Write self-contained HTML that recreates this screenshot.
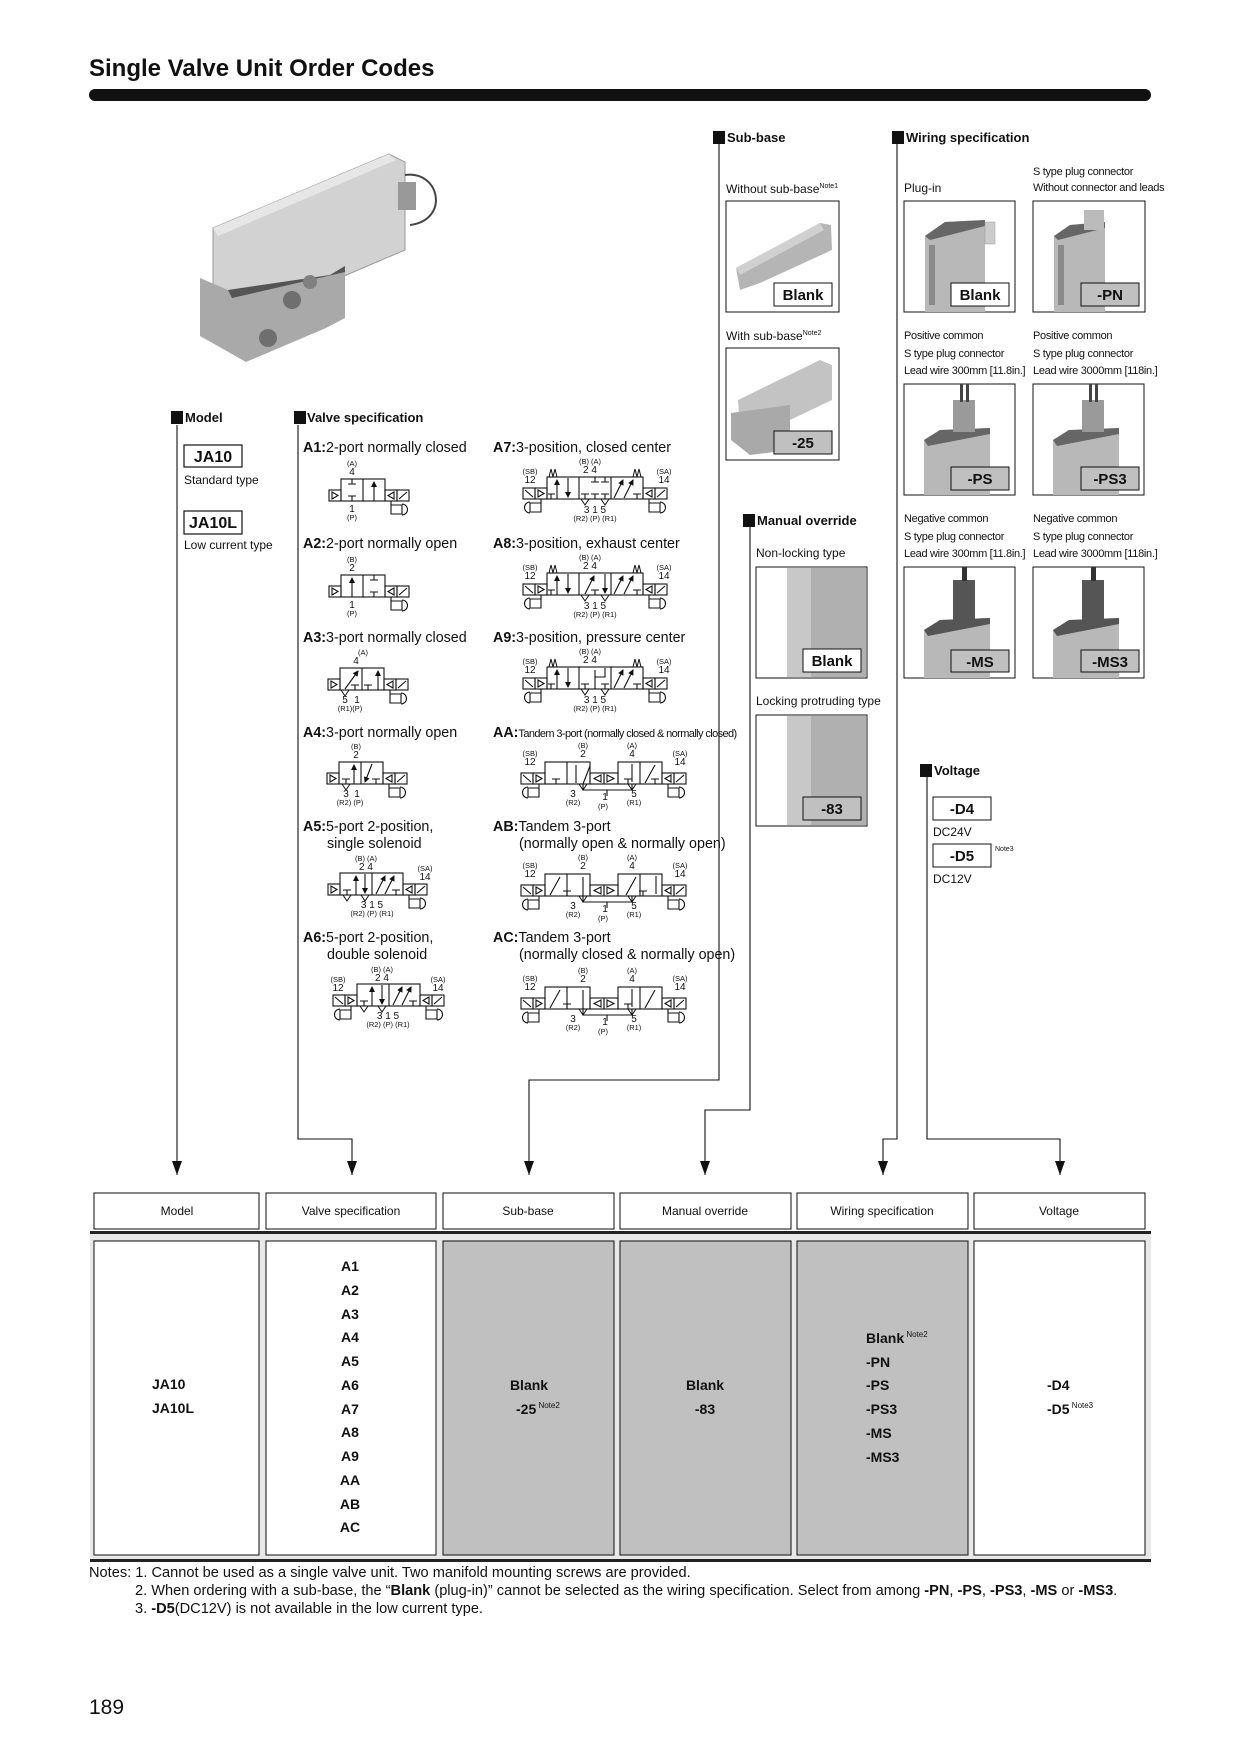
<!DOCTYPE html>
<html><head><meta charset="utf-8">
<style>
html,body{margin:0;padding:0;background:#fff;}
svg{display:block;}
text{font-family:"Liberation Sans",Arial,sans-serif;fill:#111;}
.b{font-weight:bold;}
</style></head><body>
<svg width="1240" height="1754" viewBox="0 0 1240 1754" xmlns="http://www.w3.org/2000/svg">
<defs>
<marker id="ah" markerWidth="6" markerHeight="6" refX="5" refY="3" orient="auto" markerUnits="userSpaceOnUse"><path d="M0,0 L6,3 L0,6 z" fill="#111"/></marker>
<marker id="big" markerWidth="10" markerHeight="14" refX="5" refY="14" orient="0" markerUnits="userSpaceOnUse"><path d="M0,0 L10,0 L5,14 z" fill="#111"/></marker>
<g id="rs" fill="none" stroke="#111" stroke-width="1.1">
<rect x="0" y="11" width="12" height="11"/><path d="M9,13 L3,16.5 L9,20Z"/>
<rect x="12" y="11" width="12" height="11"/><path d="M14,20 L22,13"/>
<path d="M6,22 V26 H17 V35 H6 Z M17,25 A5.5,5.5 0 0 1 17,36"/>
</g>
<g id="ls" fill="none" stroke="#111" stroke-width="1.1">
<rect x="-12" y="11" width="12" height="11"/><path d="M-9,13 L-3,16.5 L-9,20Z"/>
</g>
<g id="sp" fill="none" stroke="#111" stroke-width="1"><path d="M0,11 L2,3 L4,11 L6,3 L8,11"/></g>
<g id="ex" fill="none" stroke="#111" stroke-width="1"><path d="M-4,0 L0,6 L4,0"/></g>
</defs>

<!-- title -->
<text x="89" y="76" font-size="24" class="b">Single Valve Unit Order Codes</text>
<rect x="89" y="89" width="1062" height="12" rx="6" fill="#111"/>

<!-- large photo -->
<g>
<polygon points="213,228 389,154 405,162 405,250 330,282 225,298 213,292" fill="#d2d2d2" stroke="#9a9a9a"/>
<polygon points="213,228 389,154 396,160 218,236" fill="#e6e6e6"/>
<polygon points="200,278 228,290 330,275 345,266 345,318 326,328 246,362 200,336" fill="#a9a9a9"/>
<polygon points="228,290 330,275 345,266 345,272 232,298" fill="#555"/>
<circle cx="292" cy="300" r="9" fill="#6f6f6f"/><circle cx="310" cy="282" r="7" fill="#808080"/><circle cx="268" cy="338" r="9" fill="#6f6f6f"/>
<path d="M405,175 C440,170 450,220 410,225" fill="none" stroke="#444" stroke-width="2"/>
<rect x="398" y="182" width="18" height="28" fill="#999"/>
</g>

<!-- section headers -->
<g font-size="13">
<rect x="171" y="411" width="12" height="13" fill="#111"/><text x="185" y="422" class="b">Model</text>
<rect x="294" y="411" width="12" height="13" fill="#111"/><text x="307" y="422" class="b">Valve specification</text>
<rect x="713" y="131" width="12" height="13" fill="#111"/><text x="727" y="142" class="b">Sub-base</text>
<rect x="892" y="131" width="12" height="13" fill="#111"/><text x="906" y="142" class="b">Wiring specification</text>
<rect x="743" y="514" width="12" height="13" fill="#111"/><text x="757" y="525" class="b">Manual override</text>
<rect x="920" y="764" width="12" height="13" fill="#111"/><text x="934" y="775" class="b">Voltage</text>
</g>

<!-- Model -->
<rect x="184" y="445" width="58" height="22" fill="#fff" stroke="#111" stroke-width="1.2"/>
<text x="213" y="462" font-size="16" class="b" text-anchor="middle">JA10</text>
<text x="184" y="484" font-size="12">Standard type</text>
<rect x="184" y="511" width="58" height="23" fill="#fff" stroke="#111" stroke-width="1.2"/>
<text x="213" y="528" font-size="16" class="b" text-anchor="middle">JA10L</text>
<text x="184" y="549" font-size="12">Low current type</text>

<!-- Valve spec labels -->
<g font-size="14.3">
<text x="303" y="452"><tspan class="b">A1:</tspan>2-port normally closed</text>
<text x="303" y="548"><tspan class="b">A2:</tspan>2-port normally open</text>
<text x="303" y="642"><tspan class="b">A3:</tspan>3-port normally closed</text>
<text x="303" y="737"><tspan class="b">A4:</tspan>3-port normally open</text>
<text x="303" y="831"><tspan class="b">A5:</tspan>5-port 2-position,</text>
<text x="327" y="848">single solenoid</text>
<text x="303" y="942"><tspan class="b">A6:</tspan>5-port 2-position,</text>
<text x="327" y="959">double solenoid</text>
<text x="493" y="452"><tspan class="b">A7:</tspan>3-position, closed center</text>
<text x="493" y="548"><tspan class="b">A8:</tspan>3-position, exhaust center</text>
<text x="493" y="642"><tspan class="b">A9:</tspan>3-position, pressure center</text>
<text x="493" y="737"><tspan class="b">AA:</tspan><tspan font-size="11" letter-spacing="-0.6">Tandem 3-port (normally closed &amp; normally closed)</tspan></text>
<text x="493" y="831"><tspan class="b">AB:</tspan>Tandem 3-port</text>
<text x="519" y="848">(normally open &amp; normally open)</text>
<text x="493" y="942"><tspan class="b">AC:</tspan>Tandem 3-port</text>
<text x="519" y="959">(normally closed &amp; normally open)</text>
</g>

<!-- valve symbols -->
<g fill="none" stroke="#111" stroke-width="1.1">
<rect x="341" y="479" width="44" height="22"/><line x1="363" y1="479" x2="363" y2="501"/>
<path d="M352,479 V484 M348,484 H356 M352,501 V496 M348,496 H356"/>
<line x1="374" y1="501" x2="374" y2="482" marker-end="url(#ah)"/>
<use href="#ls" x="341" y="479"/><use href="#rs" x="385" y="479"/>
<rect x="341" y="575" width="44" height="22"/><line x1="363" y1="575" x2="363" y2="597"/>
<line x1="352" y1="597" x2="352" y2="578" marker-end="url(#ah)"/>
<path d="M374,575 V580 M370,580 H378 M374,597 V592 M370,592 H378"/>
<use href="#ls" x="341" y="575"/><use href="#rs" x="385" y="575"/>
<rect x="340" y="668" width="44" height="22"/><line x1="362" y1="668" x2="362" y2="690"/>
<line x1="345" y1="689" x2="358" y2="671" marker-end="url(#ah)"/>
<path d="M355,690 V685 M351,685 H359 M368,690 V685 M364,685 H372"/>
<line x1="378" y1="690" x2="378" y2="671" marker-end="url(#ah)"/>
<use href="#ex" x="345" y="690"/>
<use href="#ls" x="340" y="668"/><use href="#rs" x="384" y="668"/>
<rect x="339" y="762" width="44" height="22"/><line x1="361" y1="762" x2="361" y2="784"/>
<path d="M346,784 V779 M342,779 H350 M376,784 V779 M372,779 H380"/>
<line x1="354" y1="784" x2="354" y2="765" marker-end="url(#ah)"/>
<line x1="372" y1="764" x2="365" y2="782" marker-end="url(#ah)"/>
<use href="#ex" x="346" y="784"/>
<use href="#ls" x="339" y="762"/><use href="#rs" x="383" y="762"/>
<rect x="340" y="873" width="63" height="22"/><line x1="372" y1="873" x2="372" y2="895"/>
<path d="M347,895 V890 M343,890 H351 M396,895 V890 M392,890 H400"/>
<line x1="356" y1="895" x2="356" y2="876" marker-end="url(#ah)"/>
<line x1="365" y1="874" x2="365" y2="893" marker-end="url(#ah)"/>
<line x1="376" y1="894" x2="385" y2="876" marker-end="url(#ah)"/>
<line x1="385" y1="894" x2="394" y2="876" marker-end="url(#ah)"/>
<use href="#ex" x="347" y="895"/><use href="#ex" x="365" y="895"/>
<use href="#ls" x="340" y="873"/><use href="#rs" x="403" y="873"/>
<rect x="357" y="984" width="63" height="22"/><line x1="389" y1="984" x2="389" y2="1006"/>
<path d="M364,1006 V1001 M360,1001 H368 M413,1006 V1001 M409,1001 H417"/>
<line x1="372" y1="1006" x2="372" y2="987" marker-end="url(#ah)"/>
<line x1="382" y1="985" x2="382" y2="1004" marker-end="url(#ah)"/>
<line x1="393" y1="1005" x2="402" y2="987" marker-end="url(#ah)"/>
<line x1="402" y1="1005" x2="411" y2="987" marker-end="url(#ah)"/>
<use href="#ex" x="364" y="1006"/><use href="#ex" x="382" y="1006"/>
<use href="#rs" transform="translate(357,984) scale(-1,1)"/><use href="#rs" x="420" y="984"/>

<g>
<rect x="547" y="477" width="96" height="22"/><line x1="579" y1="477" x2="579" y2="499"/><line x1="611" y1="477" x2="611" y2="499"/>
<line x1="557" y1="499" x2="557" y2="480" marker-end="url(#ah)"/><line x1="568" y1="478" x2="568" y2="497" marker-end="url(#ah)"/>
<path d="M551,499 V494 M548,494 H555 M595,477 V482 M591,482 H599 M605,477 V482 M601,482 H609 M585,499 V494 M581,494 H589 M595,499 V494 M591,494 H599 M605,499 V494 M601,494 H609 M637,499 V494 M633,494 H641"/>
<line x1="614" y1="498" x2="623" y2="480" marker-end="url(#ah)"/><line x1="624" y1="498" x2="633" y2="480" marker-end="url(#ah)"/>
<use href="#ex" x="585" y="499"/><use href="#ex" x="605" y="499"/>
<use href="#rs" transform="translate(547,477) scale(-1,1)"/><use href="#rs" x="643" y="477"/>
<use href="#sp" x="549" y="466"/><use href="#sp" x="633" y="466"/>
</g>
<g>
<rect x="547" y="573" width="96" height="22"/><line x1="579" y1="573" x2="579" y2="595"/><line x1="611" y1="573" x2="611" y2="595"/>
<line x1="557" y1="595" x2="557" y2="576" marker-end="url(#ah)"/><line x1="568" y1="574" x2="568" y2="593" marker-end="url(#ah)"/>
<line x1="585" y1="594" x2="594" y2="576" marker-end="url(#ah)"/><line x1="605" y1="574" x2="605" y2="593" marker-end="url(#ah)"/>
<path d="M551,595 V590 M548,590 H555 M595,595 V590 M591,590 H599 M637,595 V590 M633,590 H641"/>
<line x1="614" y1="594" x2="623" y2="576" marker-end="url(#ah)"/><line x1="624" y1="594" x2="633" y2="576" marker-end="url(#ah)"/>
<use href="#ex" x="585" y="595"/><use href="#ex" x="605" y="595"/>
<use href="#rs" transform="translate(547,573) scale(-1,1)"/><use href="#rs" x="643" y="573"/>
<use href="#sp" x="549" y="562"/><use href="#sp" x="633" y="562"/>
</g>
<g>
<rect x="547" y="667" width="96" height="22"/><line x1="579" y1="667" x2="579" y2="689"/><line x1="611" y1="667" x2="611" y2="689"/>
<line x1="557" y1="689" x2="557" y2="670" marker-end="url(#ah)"/><line x1="568" y1="668" x2="568" y2="687" marker-end="url(#ah)"/>
<path d="M595,689 V670 M595,677 H605 V668 M585,689 V684 M581,684 H589 M605,689 V684 M601,684 H609 M551,689 V684 M548,684 H555 M637,689 V684 M633,684 H641"/>
<line x1="614" y1="688" x2="623" y2="670" marker-end="url(#ah)"/><line x1="624" y1="688" x2="633" y2="670" marker-end="url(#ah)"/>
<use href="#ex" x="585" y="689"/><use href="#ex" x="605" y="689"/>
<use href="#rs" transform="translate(547,667) scale(-1,1)"/><use href="#rs" x="643" y="667"/>
<use href="#sp" x="549" y="656"/><use href="#sp" x="633" y="656"/>
</g>

<g id="tand">
<rect x="545" y="762" width="45" height="22"/><line x1="567" y1="762" x2="567" y2="784"/>
<rect x="618" y="762" width="44" height="22"/><line x1="640" y1="762" x2="640" y2="784"/>
<rect x="590" y="773" width="14" height="11"/><rect x="604" y="773" width="14" height="11"/>
<path d="M601,775 L594,778.5 L601,782Z M607,775 L614,778.5 L607,782Z"/>
<path d="M583,784 V790 H632 V784 M607,790 V796"/>
<use href="#rs" transform="translate(545,762) scale(-1,1)"/><use href="#rs" x="662" y="762"/>
<use href="#ex" x="583" y="784"/><use href="#ex" x="632" y="784"/>
</g>
<path d="M556,784 V779 M552,779 H560 M576,783 V765 M583,784 L590,766 M628,784 V779 M624,779 H632 M645,783 L655,765 M655,784 V779 M651,779 H659 M632,764 V782"/>
<use href="#tand" y="112"/>
<path d="M550,895 L560,877 M567,896 V891 M563,891 H571 M583,896 V877 M626,895 L636,877 M643,896 V891 M639,891 H647 M656,876 V894"/>
<use href="#tand" y="225"/>
<path d="M550,1008 L560,990 M567,1009 V1004 M563,1004 H571 M583,1009 V990 M628,1009 V1004 M624,1004 H632 M632,989 V1007 M645,1008 L655,990"/>
</g>

<!-- port labels -->
<g text-anchor="middle">
<g font-size="7.5">
<text x="352" y="466">(A)</text><text x="352" y="520">(P)</text>
<text x="352" y="562">(B)</text><text x="352" y="616">(P)</text>
<text x="363" y="655">(A)</text><text x="350" y="711">(R1)(P)</text>
<text x="356" y="749">(B)</text><text x="350" y="805">(R2) (P)</text>
<text x="366" y="861">(B) (A)</text><text x="372" y="916">(R2) (P) (R1)</text><text x="425" y="871">(SA)</text>
<text x="382" y="972">(B) (A)</text><text x="388" y="1027">(R2) (P) (R1)</text><text x="338" y="982">(SB)</text><text x="438" y="982">(SA)</text>
<text x="590" y="464">(B) (A)</text><text x="595" y="521">(R2) (P) (R1)</text><text x="530" y="474">(SB)</text><text x="664" y="474">(SA)</text>
<text x="590" y="560">(B) (A)</text><text x="595" y="617">(R2) (P) (R1)</text><text x="530" y="570">(SB)</text><text x="664" y="570">(SA)</text>
<text x="590" y="654">(B) (A)</text><text x="595" y="711">(R2) (P) (R1)</text><text x="530" y="664">(SB)</text><text x="664" y="664">(SA)</text>
<g id="tl"><text x="530" y="756">(SB)</text><text x="583" y="748">(B)</text><text x="632" y="748">(A)</text><text x="680" y="756">(SA)</text><text x="573" y="805">(R2)</text><text x="603" y="809">(P)</text><text x="634" y="805">(R1)</text></g>
<use href="#tl" y="112"/><use href="#tl" y="225"/>
</g>
<g font-size="10">
<text x="352" y="475">4</text><text x="352" y="512">1</text>
<text x="352" y="571">2</text><text x="352" y="608">1</text>
<text x="356" y="664">4</text><text x="345" y="703">5</text><text x="357" y="703">1</text>
<text x="356" y="758">2</text><text x="346" y="797">3</text><text x="357" y="797">1</text>
<text x="366" y="870">2 4</text><text x="372" y="908">3 1 5</text><text x="425" y="880">14</text>
<text x="382" y="981">2 4</text><text x="388" y="1019">3 1 5</text><text x="338" y="991">12</text><text x="438" y="991">14</text>
<text x="590" y="473">2 4</text><text x="595" y="513">3 1 5</text><text x="530" y="483">12</text><text x="664" y="483">14</text>
<text x="590" y="569">2 4</text><text x="595" y="609">3 1 5</text><text x="530" y="579">12</text><text x="664" y="579">14</text>
<text x="590" y="663">2 4</text><text x="595" y="703">3 1 5</text><text x="530" y="673">12</text><text x="664" y="673">14</text>
<g id="tn"><text x="530" y="765">12</text><text x="583" y="757">2</text><text x="632" y="757">4</text><text x="680" y="765">14</text><text x="573" y="797">3</text><text x="605" y="800">1</text><text x="634" y="797">5</text></g>
<use href="#tn" y="112"/><use href="#tn" y="225"/>
</g>
</g>

<!-- Sub-base images -->
<text x="726" y="193" font-size="12">Without sub-base<tspan font-size="7" dy="-5">Note1</tspan></text>
<rect x="726" y="201" width="113" height="111" fill="#fff" stroke="#111"/>
<polygon points="736,268 820,223 831,225 832,250 760,283 740,290" fill="#b5b5b5"/>
<polygon points="736,268 820,223 824,230 740,275" fill="#d0d0d0"/>
<rect x="774" y="283" width="58" height="23" fill="#fff" stroke="#111"/>
<text x="803" y="300" font-size="15" class="b" text-anchor="middle">Blank</text>

<text x="726" y="340" font-size="12">With sub-base<tspan font-size="7" dy="-5">Note2</tspan></text>
<rect x="726" y="348" width="113" height="112" fill="#fff" stroke="#111"/>
<polygon points="738,400 820,360 832,365 832,400 790,420 740,430" fill="#c3c3c3"/>
<polygon points="731,413 790,405 790,450 750,455 731,440" fill="#a9a9a9"/>
<rect x="774" y="431" width="58" height="23" fill="#c0c0c0" stroke="#111"/>
<text x="803" y="448" font-size="15" class="b" text-anchor="middle">-25</text>

<!-- Wiring texts -->
<g font-size="11" letter-spacing="-0.3">
<text x="904" y="192" font-size="12" letter-spacing="0">Plug-in</text>
<text x="1033" y="175">S type plug connector</text>
<text x="1033" y="191">Without connector and leads</text>
<text x="904" y="339">Positive common</text><text x="904" y="357">S type plug connector</text><text x="904" y="374">Lead wire 300mm [11.8in.]</text>
<text x="1033" y="339">Positive common</text><text x="1033" y="357">S type plug connector</text><text x="1033" y="374">Lead wire 3000mm [118in.]</text>
<text x="904" y="522">Negative common</text><text x="904" y="540">S type plug connector</text><text x="904" y="557">Lead wire 300mm [11.8in.]</text>
<text x="1033" y="522">Negative common</text><text x="1033" y="540">S type plug connector</text><text x="1033" y="557">Lead wire 3000mm [118in.]</text>
</g>
<g>
<rect x="904" y="201" width="111" height="111" fill="#fff" stroke="#111"/>
<polygon points="925,236 945,222 985,220 985,312 925,312" fill="#b8b8b8"/>
<polygon points="925,236 945,222 985,220 985,226 930,240" fill="#666"/>
<rect x="929" y="245" width="6" height="60" fill="#8a8a8a"/>
<rect x="985" y="222" width="10" height="22" fill="#ccc" stroke="#999" stroke-width="0.5"/>
</g>
<g>
<rect x="1033" y="201" width="112" height="111" fill="#fff" stroke="#111"/>
<polygon points="1054,236 1070,225 1105,222 1105,312 1054,312" fill="#b8b8b8"/>
<polygon points="1054,236 1070,225 1105,222 1105,228 1058,240" fill="#666"/>
<rect x="1084" y="210" width="20" height="20" fill="#bbb"/>
<rect x="1058" y="245" width="6" height="60" fill="#8a8a8a"/>
</g>
<rect x="951" y="283" width="58" height="23" fill="#fff" stroke="#111"/>
<text x="980" y="300" font-size="15" class="b" text-anchor="middle">Blank</text>
<rect x="1081" y="283" width="58" height="23" fill="#c0c0c0" stroke="#111"/>
<text x="1110" y="300" font-size="15" class="b" text-anchor="middle">-PN</text>

<g id="pimg">
<rect x="904" y="384" width="111" height="111" fill="#fff" stroke="#111"/>
<polygon points="924,440 940,430 990,428 990,495 924,495" fill="#b8b8b8"/>
<polygon points="924,440 940,430 990,428 990,434 928,446" fill="#666"/>
<rect x="953" y="400" width="22" height="32" fill="#9a9a9a"/>
<rect x="960" y="384" width="3" height="18" fill="#444"/><rect x="966" y="384" width="3" height="18" fill="#444"/>
</g>
<use href="#pimg" x="129"/>
<rect x="951" y="467" width="58" height="23" fill="#c0c0c0" stroke="#111"/>
<text x="980" y="484" font-size="15" class="b" text-anchor="middle">-PS</text>
<rect x="1081" y="467" width="58" height="23" fill="#c0c0c0" stroke="#111"/>
<text x="1110" y="484" font-size="15" class="b" text-anchor="middle">-PS3</text>

<g id="mimg">
<rect x="904" y="567" width="111" height="111" fill="#fff" stroke="#111"/>
<polygon points="924,630 940,620 990,618 990,678 924,678" fill="#b8b8b8"/>
<polygon points="924,630 940,620 990,618 990,624 928,636" fill="#555"/>
<rect x="953" y="580" width="22" height="40" fill="#555"/>
<rect x="962" y="567" width="5" height="14" fill="#333"/>
</g>
<use href="#mimg" x="129"/>
<rect x="951" y="650" width="58" height="22" fill="#c0c0c0" stroke="#111"/>
<text x="980" y="667" font-size="15" class="b" text-anchor="middle">-MS</text>
<rect x="1081" y="650" width="58" height="22" fill="#c0c0c0" stroke="#111"/>
<text x="1110" y="667" font-size="15" class="b" text-anchor="middle">-MS3</text>

<!-- Manual override -->
<text x="756" y="557" font-size="12">Non-locking type</text>
<rect x="756" y="567" width="111" height="111" fill="#fff" stroke="#111"/>
<rect x="787" y="568" width="79" height="109" fill="#b0b0b0"/>
<rect x="787" y="568" width="24" height="109" fill="#c8c8c8"/>
<rect x="803" y="649" width="58" height="23" fill="#fff" stroke="#111"/>
<text x="832" y="666" font-size="15" class="b" text-anchor="middle">Blank</text>
<text x="756" y="705" font-size="12">Locking protruding type</text>
<rect x="756" y="715" width="111" height="111" fill="#fff" stroke="#111"/>
<rect x="787" y="716" width="79" height="109" fill="#b0b0b0"/>
<rect x="787" y="716" width="24" height="109" fill="#c8c8c8"/>
<rect x="803" y="797" width="58" height="23" fill="#c0c0c0" stroke="#111"/>
<text x="832" y="814" font-size="15" class="b" text-anchor="middle">-83</text>

<!-- Voltage -->
<rect x="933" y="797" width="58" height="23" fill="#fff" stroke="#111"/>
<text x="962" y="814" font-size="15" class="b" text-anchor="middle">-D4</text>
<text x="933" y="836" font-size="12">DC24V</text>
<rect x="933" y="844" width="58" height="23" fill="#fff" stroke="#111"/>
<text x="962" y="861" font-size="15" class="b" text-anchor="middle">-D5</text>
<text x="995" y="851" font-size="7">Note3</text>
<text x="933" y="883" font-size="12">DC12V</text>

<!-- connectors -->
<g fill="none" stroke="#111" stroke-width="1.1">
<path d="M177,425 V1175" marker-end="url(#big)"/>
<path d="M298,425 V1139 H352 V1175" marker-end="url(#big)"/>
<path d="M719,143 V1080 H529 V1175" marker-end="url(#big)"/>
<path d="M750,527 V1110 H705 V1175" marker-end="url(#big)"/>
<path d="M897,143 V1139 H883 V1175" marker-end="url(#big)"/>
<path d="M927,777 V1139 H1060 V1175" marker-end="url(#big)"/>
</g>

<!-- table -->
<rect x="90" y="1233" width="1061" height="327" fill="#e8e8e8"/>
<rect x="90" y="1231" width="1061" height="3" fill="#222"/>
<rect x="90" y="1559" width="1061" height="3" fill="#222"/>
<g fill="#fff" stroke="#222" stroke-width="1.1">
<rect x="94" y="1193" width="165" height="36"/><rect x="266" y="1193" width="170" height="36"/>
<rect x="443" y="1193" width="171" height="36"/><rect x="620" y="1193" width="171" height="36"/>
<rect x="797" y="1193" width="171" height="36"/><rect x="974" y="1193" width="171" height="36"/>
<rect x="94" y="1241" width="165" height="314"/><rect x="266" y="1241" width="170" height="314"/>
<rect x="443" y="1241" width="171" height="314" fill="#c0c0c0"/><rect x="620" y="1241" width="171" height="314" fill="#c0c0c0"/>
<rect x="797" y="1241" width="171" height="314" fill="#c0c0c0"/><rect x="974" y="1241" width="171" height="314"/>
</g>
<g font-size="12" text-anchor="middle">
<text x="177" y="1215">Model</text><text x="351" y="1215">Valve specification</text>
<text x="528" y="1215">Sub-base</text><text x="705" y="1215">Manual override</text>
<text x="882" y="1215">Wiring specification</text><text x="1059" y="1215">Voltage</text>
</g>
<g font-size="14" class="b">
<text x="152" y="1389">JA10</text><text x="152" y="1413">JA10L</text>
<g text-anchor="middle">
<text x="350" y="1271">A1</text><text x="350" y="1295">A2</text><text x="350" y="1319">A3</text><text x="350" y="1342">A4</text>
<text x="350" y="1366">A5</text><text x="350" y="1390">A6</text><text x="350" y="1414">A7</text><text x="350" y="1437">A8</text>
<text x="350" y="1461">A9</text><text x="350" y="1485">AA</text><text x="350" y="1509">AB</text><text x="350" y="1532">AC</text>
<text x="529" y="1390">Blank</text><text x="705" y="1390">Blank</text><text x="705" y="1414">-83</text>
</g>
<text x="516" y="1414">-25<tspan font-size="8" font-weight="normal" dy="-6"> Note2</tspan></text>
<text x="866" y="1343">Blank<tspan font-size="8" font-weight="normal" dy="-6"> Note2</tspan></text>
<text x="866" y="1367">-PN</text><text x="866" y="1390">-PS</text><text x="866" y="1414">-PS3</text><text x="866" y="1438">-MS</text><text x="866" y="1462">-MS3</text>
<text x="1047" y="1390">-D4</text>
<text x="1047" y="1414">-D5<tspan font-size="8" font-weight="normal" dy="-6"> Note3</tspan></text>
</g>

<!-- notes -->
<g font-size="14.6">
<text x="89" y="1577">Notes: 1. Cannot be used as a single valve unit. Two manifold mounting screws are provided.</text>
<text x="135" y="1595">2. When ordering with a sub-base, the “<tspan class="b">Blank</tspan> (plug-in)” cannot be selected as the wiring specification. Select from among <tspan class="b">-PN</tspan>, <tspan class="b">-PS</tspan>, <tspan class="b">-PS3</tspan>, <tspan class="b">-MS</tspan> or <tspan class="b">-MS3</tspan>.</text>
<text x="135" y="1613">3. <tspan class="b">-D5</tspan>(DC12V) is not available in the low current type.</text>
</g>
<text x="89" y="1714" font-size="21">189</text>
</svg>
</body></html>
